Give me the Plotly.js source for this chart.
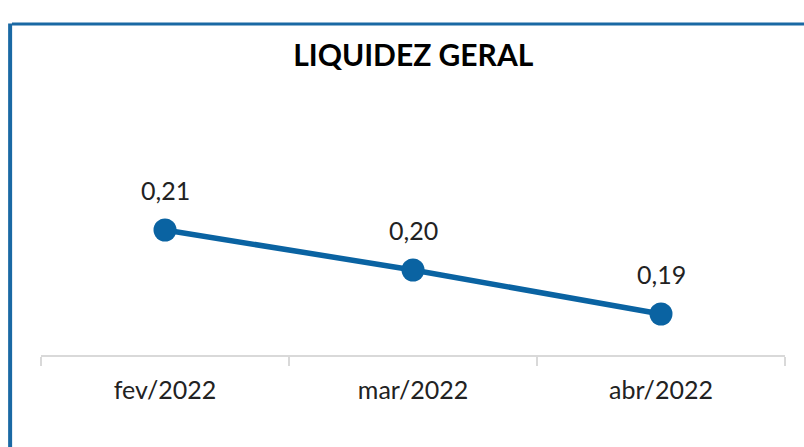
<!DOCTYPE html>
<html>
<head>
<meta charset="utf-8">
<script src="https://cdn.plot.ly/plotly-3.0.1.min.js"></script>
<style>
html,body{margin:0;padding:0;background:#fff;}
#chart{width:804px;height:447px;}
</style>
</head>
<body>
<div id="chart"></div>
<script>
const categories = ["fev/2022", "mar/2022", "abr/2022"];
const values = [0.212, 0.202, 0.191];
const labels = values.map(v => v.toFixed(2).replace('.', ','));

const FONT = "Lato, 'Open Sans', sans-serif";
const BLUE = "#0A63A2";

const trace = {
  x: categories,
  y: values,
  type: "scatter",
  mode: "lines+markers",
  line: {color: BLUE, width: 5.5},
  marker: {color: BLUE, size: 23},
  hoverinfo: "none"
};

const annotations = categories.map((c, i) => ({
  x: c, y: values[i], text: labels[i], showarrow: false,
  yshift: 40, font: {family: FONT, size: 25, color: "#222"}
}));

const layout = {
  width: 804, height: 447,
  margin: {l: 41, r: 19, t: 100, b: 92},
  paper_bgcolor: "#fff", plot_bgcolor: "#fff",
  title: {text: "<b>LIQUIDEZ GERAL</b>", font: {family: FONT, size: 30, color: "#000"},
          x: 0.514, xanchor: "center", y: 0.875, yanchor: "middle"},
  showlegend: false,
  xaxis: {
    type: "category", range: [-0.5, 2.5], showgrid: false, zeroline: false,
    showline: true, linecolor: "#d9d9d9", linewidth: 2,
    ticks: "outside", ticklen: 9, tickwidth: 2, tickcolor: "#d9d9d9",
    tickson: "boundaries", ticklabelstandoff: 12,
    tickfont: {family: FONT, size: 25, color: "#222"}
  },
  yaxis: {range: [0.18075, 0.2445], visible: false, fixedrange: true},
  annotations: annotations,
  shapes: [
    {type: "line", xref: "paper", yref: "paper", x0: -0.039, x1: 1.03, y0: 1.298, y1: 1.298,
     line: {color: "#1A69A4", width: 3}},
    {type: "line", xref: "paper", yref: "paper", x0: -0.0415, x1: -0.0415, y0: 1.30, y1: -0.5,
     line: {color: "#1A69A4", width: 4}}
  ]
};

Plotly.newPlot("chart", [trace], layout, {displayModeBar: false, staticPlot: true});
</script>
</body>
</html>
